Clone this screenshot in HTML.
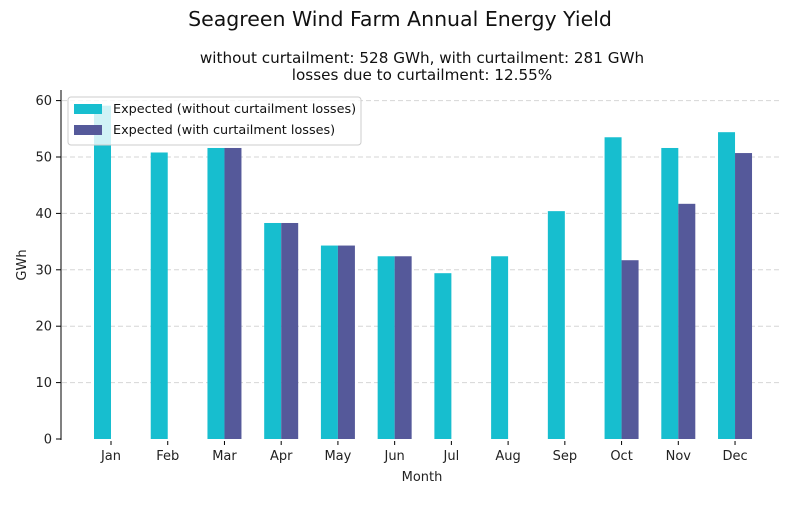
<!DOCTYPE html>
<html><head><meta charset="utf-8"><style>
body{margin:0;background:#fff;}
svg{font-family:"DejaVu Sans","Liberation Sans",sans-serif;}
</style></head><body>
<svg id="c" width="800" height="500" xmlns="http://www.w3.org/2000/svg">
<text x="400" y="26" text-anchor="middle" font-size="20.5" fill="#111">Seagreen Wind Farm Annual Energy Yield</text>
<text x="422" y="63" text-anchor="middle" font-size="15.2" fill="#111">without curtailment: 528 GWh, with curtailment: 281 GWh</text>
<text x="422" y="80" text-anchor="middle" font-size="15.2" fill="#111">losses due to curtailment: 12.55%</text>
<g id="grid"></g><g id="bars"></g><g id="axes"></g>
<text x="422" y="481" text-anchor="middle" font-size="13" fill="#222">Month</text>
<text transform="translate(26,265) rotate(-90)" text-anchor="middle" font-size="13" fill="#222">GWh</text>
<g>
<rect x="68" y="97" width="293" height="48" rx="3" fill="rgba(255,255,255,0.8)" stroke="#ccc"/>
<rect x="74" y="104" width="28" height="10" fill="#17becf"/>
<text x="113" y="113" font-size="12.8" fill="#111">Expected (without curtailment losses)</text>
<rect x="74" y="125" width="28" height="10" fill="#55599a"/>
<text x="113" y="134" font-size="12.8" fill="#111">Expected (with curtailment losses)</text>
</g>
</svg>
<script>
const months=["Jan","Feb","Mar","Apr","May","Jun","Jul","Aug","Sep","Oct","Nov","Dec"];
const withoutCurt=[59.1,50.8,51.6,38.3,34.3,32.4,29.4,32.4,40.4,53.5,51.6,54.4];
const withCurt=[0,0,51.6,38.3,34.3,32.4,0,0,0,31.7,41.7,50.7];
const yTicks=[0,10,20,30,40,50,60];
const NS="http://www.w3.org/2000/svg";
const y=v=>439-v*5.64;
const x=i=>111+i*56.73;
const bw=17;
function mk(t,a,p){const e=document.createElementNS(NS,t);for(const k in a)e.setAttribute(k,a[k]);p.appendChild(e);return e;}
const grid=document.getElementById('grid'),bars=document.getElementById('bars'),axes=document.getElementById('axes');
yTicks.forEach(v=>{
 if(v>0){const g=mk('line',{x1:62,x2:780,y1:y(v),y2:y(v),stroke:'#d6d6d6','stroke-dasharray':'5,3'},grid);
 
 }
 const t=mk('line',{x1:56,x2:61,y1:y(v),y2:y(v),stroke:'#000'},axes);
 
 
 const l=mk('text',{x:52,y:y(v)+4.5,'text-anchor':'end','font-size':13,fill:'#222'},axes);l.textContent=v;
 
 
});
const sp=mk('line',{x1:61,x2:61,y1:90,y2:440,stroke:'#000'},axes);


months.forEach((m,i)=>{
 const a=mk('rect',{x:x(i)-bw,y:y(withoutCurt[i]),width:bw,height:439-y(withoutCurt[i]),fill:'#17becf'},bars);
 
 
 const b=mk('rect',{x:x(i),y:y(withCurt[i]),width:bw,height:439-y(withCurt[i]),fill:'#55599a'},bars);
 
 
 const t=mk('line',{x1:x(i),x2:x(i),y1:441,y2:445,stroke:'#000'},axes);
 
 
 const l=mk('text',{x:x(i),y:460,'text-anchor':'middle','font-size':13,fill:'#222'},axes);l.textContent=m;
 
 
});
</script>
</body></html>
